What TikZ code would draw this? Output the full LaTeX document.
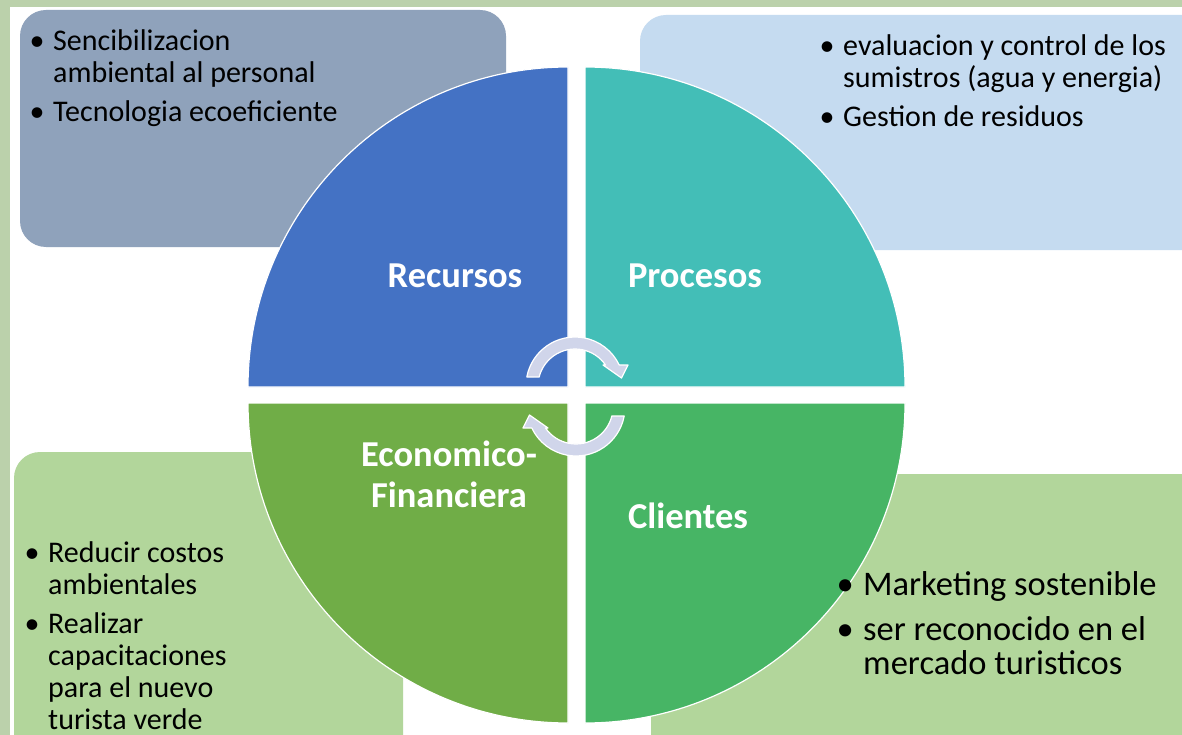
\documentclass[tikz,border=0pt]{standalone}
\usepackage{fontspec}
\setmainfont{Carlito}
\definecolor{bgtex}{HTML}{BBD1AB}
\definecolor{boxslate}{HTML}{8FA2BB}
\definecolor{boxsky}{HTML}{C5DBF0}
\definecolor{boxgreen}{HTML}{B2D69B}
\definecolor{qblue}{HTML}{4472C4}
\definecolor{qteal}{HTML}{43BEB7}
\definecolor{qolive}{HTML}{70AD47}
\definecolor{qgreen}{HTML}{47B565}
\definecolor{arrowfill}{HTML}{D0D5EA}
\newcommand\bulmark[1]{\makebox[#1][l]{\textbullet}}
\begin{document}
\begin{tikzpicture}[x=1pt,y=-1pt,
  infobox/.style={rounded corners=26pt},
  pie/.style={draw=white, line width=1.2pt},
  quadlabel/.style={text=white, font=\fontsize{36.5}{41}\selectfont\bfseries, align=center, inner sep=0, anchor=base},
  bullets/.style={anchor=base west, inner sep=0, text=black},
  cyc/.style={fill=arrowfill, draw=white, line width=1.2pt, line join=round}]
\useasboundingbox (0,0) rectangle (1182,735);
\begin{scope}
\clip (0,0) rectangle (1182,735);
% background
\fill[bgtex] (0,0) rectangle (1182,735);
\fill[white] (10,7) rectangle (1182,735);
% info boxes
\fill[infobox, boxslate] (20,10) rectangle (506,247);
\fill[infobox, boxsky] (640,15) rectangle (1215,250);
\fill[infobox, boxgreen] (14,452) rectangle (403,770);
\fill[infobox, boxgreen] (651,474) rectangle (1215,770);
% quadrants
\filldraw[pie, fill=qblue] (568,387) -- (248,387) arc[start angle=180, end angle=270, radius=320] -- cycle;
\filldraw[pie, fill=qteal] (585,387) -- (905,387) arc[start angle=0, end angle=-90, radius=320] -- cycle;
\filldraw[pie, fill=qolive] (568,403) -- (248,403) arc[start angle=180, end angle=90, radius=320] -- cycle;
\filldraw[pie, fill=qgreen] (585,403) -- (905,403) arc[start angle=0, end angle=90, radius=320] -- cycle;
% cycle arrows
\filldraw[cyc] (526.8,377) arc[start angle=-169.4, end angle=-25.4, radius=49] -- (628,365) -- (621.5,378) -- (603,365) -- (605.5,365) arc[start angle=-34.6, end angle=-165.9, radius=37] -- cycle;
\begin{scope}[rotate around={180:(575.5,396.5)}]
\filldraw[cyc] (526.8,377) arc[start angle=-169.4, end angle=-25.4, radius=49] -- (628,365) -- (621.5,378) -- (603,365) -- (605.5,365) arc[start angle=-34.6, end angle=-165.9, radius=37] -- cycle;
\end{scope}
% quadrant labels
\node[quadlabel] (recursos) at (455,287) {Recursos};
\node[quadlabel] (procesos) at (695,287) {Procesos};
\node[quadlabel] (economico) at (449,507) {Economico-\\Financiera};
\node[quadlabel] (clientes) at (688,528) {Clientes};
% bullet texts
\node[bullets, font=\fontsize{30}{32}\selectfont] (tltext) at (29.5,51) {\begin{tabular}[t]{@{}l@{}l@{}}
\bulmark{23.5pt} & Sencibilizacion\\
 & ambiental al personal\\[7pt]
\bulmark{23.5pt} & Tecnologia ecoeficiente
\end{tabular}};
\node[bullets, font=\fontsize{30}{32}\selectfont] (trtext) at (819.5,56) {\begin{tabular}[t]{@{}l@{}l@{}}
\bulmark{23.5pt} & evaluacion y control de los\\
 & sumistros (agua y energia)\\[7pt]
\bulmark{23.5pt} & Gestion de residuos
\end{tabular}};
\node[bullets, font=\fontsize{30}{32}\selectfont] (bltext) at (24.5,562) {\begin{tabular}[t]{@{}l@{}l@{}}
\bulmark{23.5pt} & Reducir costos\\
 & ambientales\\[7pt]
\bulmark{23.5pt} & Realizar\\
 & capacitaciones\\
 & para el nuevo\\
 & turista verde
\end{tabular}};
\node[bullets, font=\fontsize{34.5}{34}\selectfont] (brtext) at (836.4,595) {\begin{tabular}[t]{@{}l@{}l@{}}
\bulmark{26.6pt} & Marketing sostenible\\[11pt]
\bulmark{26.6pt} & ser reconocido en el\\
 & mercado turisticos
\end{tabular}};
\end{scope}
\end{tikzpicture}
\end{document}
